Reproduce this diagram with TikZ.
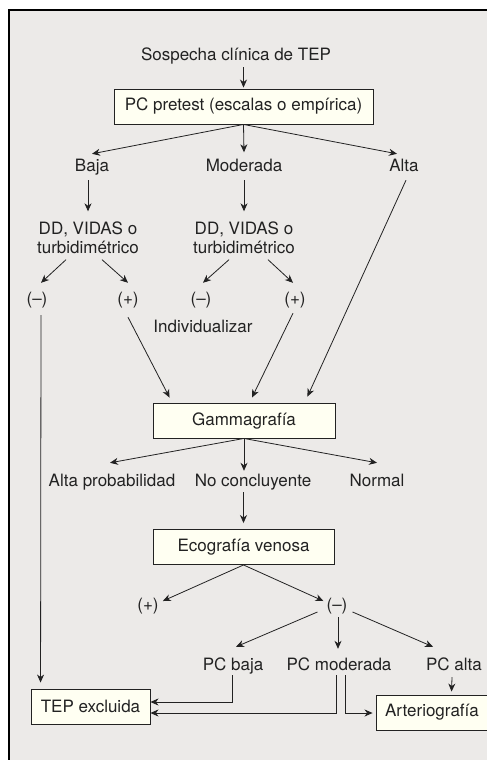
\documentclass[tikz,border=0pt]{standalone}
\usepackage{fontspec}
\setmainfont{TeX Gyre Heros}
\usetikzlibrary{arrows.meta,calc}
\definecolor{panel}{HTML}{ECEAE8}
\definecolor{boxfill}{HTML}{FFFFF2}
\definecolor{ink}{HTML}{222222}

\begin{document}
\begin{tikzpicture}
  [x=1pt,y=-1pt
  ,every node/.style={font=\fontsize{17}{19}\selectfont,text=ink}
  ,lbl/.style={inner sep=0pt,text height=12.5pt,text depth=3.5pt,anchor=base}
  ,stepbox/.style={draw=ink,line width=0.9pt,fill=boxfill,inner sep=0pt,minimum height=35pt}
  ,conn/.style={draw=ink,line width=0.8pt,-{Stealth[length=8pt,width=7pt,inset=2.5pt]}}
  ]

  % Box
  %
  % #1 - name
  % #2 - center
  % #3 - width
  % #4 - text
  \newcommand{\flowbox}[4]{
    \node[stepbox,minimum width=#3] (#1) at #2 {#4};
  }

  % Label
  %
  % #1 - name
  % #2 - base point
  % #3 - text
  \newcommand{\flabel}[3]{
    \node[lbl] (#1) at #2 {#3};
  }

  \useasboundingbox (0,0) rectangle (487,760);

  % panel
  \fill[panel] (9,10) rectangle (487,760);
  \draw[line width=1.2pt] (9,760) -- (9,10) -- (487,10);

  % pretest
  \flabel{sosp}{(236,61)}{Sospecha clínica de TEP}
  \flowbox{pc}{(243.5,106.5)}{259pt}{PC pretest (escalas o empírica)}
  \flabel{baja}{(92,171)}{Baja}
  \flabel{mod}{(244,171)}{Moderada}
  \flabel{alta}{(404,171)}{Alta}

  % dimero D
  \node[align=center,inner sep=0pt] (dda) at (88,237.5) {DD, VIDAS o\\turbidimétrico};
  \node[align=center,inner sep=0pt] (ddb) at (244,237.5) {DD, VIDAS o\\turbidimétrico};
  \flabel{nega}{(37,304)}{(–)}
  \flabel{posa}{(128,304)}{(+)}
  \flabel{negb}{(201,304)}{(–)}
  \flabel{posb}{(295,304)}{(+)}
  \flabel{indiv}{(203,332)}{Individualizar}

  % gammagrafia
  \flowbox{gam}{(244,420.5)}{182pt}{Gammagrafía}
  \flabel{altp}{(112,486)}{Alta probabilidad}
  \flabel{noc}{(253,486)}{No concluyente}
  \flabel{norm}{(377,486)}{Normal}

  % ecografia
  \flowbox{eco}{(243.5,547)}{181pt}{Ecografía venosa}
  \flabel{ecop}{(148,610)}{(+)}
  \flabel{econ}{(337,610)}{(–)}
  \flabel{pcb}{(233,670)}{PC baja}
  \flabel{pcm}{(339,670)}{PC moderada}
  \flabel{pca}{(454,670)}{PC alta}

  % final
  \flowbox{tep}{(90.5,706.5)}{119pt}{TEP excluida}
  \flowbox{art}{(432,712.5)}{112pt}{Arteriografía}

  % arrows
  \draw[conn] ($(pc.north |- sosp.south)+(0,2.5)$) -- ($(pc.north)+(0,-1)$);
  \draw[conn] (pc.south) -- ($(baja.north)+(0,-4.5)$);
  \draw[conn] (pc.south) -- ($(mod.north)+(0,-6)$);
  \draw[conn] (pc.south) -- ($(alta.north)+(-7,-4.5)$);

  \draw[conn] ($(baja.south)+(-4,5.5)$) -- ($(dda.north)+(0,-10)$);
  \draw[conn] ($(mod.south)+(0,5.5)$) -- ($(ddb.north)+(0,-10)$);
  \draw[conn] ($(dda.south)+(-22,6)$) -- ($(nega.north)+(4,-8.5)$);
  \draw[conn] ($(dda.south)+(14,6)$) -- ($(posa.north)+(0,-8.5)$);
  \draw[conn] ($(ddb.south)+(-15,6)$) -- ($(negb.north)+(2,-8.5)$);
  \draw[conn] ($(ddb.south)+(24,6)$) -- ($(posb.north)+(-2,-8.5)$);

  \draw[conn] ($(posa.south)+(0,9.5)$) -- ($(gam.north west)+(17,-5)$);
  \draw[conn] ($(posb.south)+(-2,5.5)$) -- ($(gam.north)+(8,-5)$);
  \draw[conn] ($(alta.south)+(2,5.5)$) -- ($(gam.north east)+(-28,-6)$);
  \draw[conn] (gam.south) -- ($(altp.north)+(-2,-10.5)$);
  \draw[conn] (gam.south) -- ($(gam.south |- noc.north)+(0,-2.5)$);
  \draw[conn] (gam.south) -- ($(norm.north)+(0,-10.5)$);

  \draw[conn] ($(eco.north |- noc.south)+(0,2.5)$) -- ($(eco.north)+(0,-6)$);
  \draw[conn] (eco.south) -- ($(ecop.east)+(4,-4.5)$);
  \draw[conn] (eco.south) -- ($(econ.west)+(-3,-4.5)$);
  \draw[conn] ($(econ.west)+(-9,6.5)$) -- ($(pcb.north)+(3,-10.5)$);
  \draw[conn] ($(econ.south)+(1,3.5)$) -- ($(pcm.north)+(-1,-8.5)$);
  \draw[conn] ($(econ.east)+(5,6.5)$) -- ($(pca.north)+(-21,-10.5)$);

  \draw[conn] ($(nega.south)+(4,7.5)$) -- ($(tep.north west)+(10,-6)$);
  \draw[conn] ($(pcb.south)+(-1,1.5)$) |- ($(tep.east)+(0,-4.5)$);
  \draw[conn] ($(pcm.south)+(-3,1.5)$) |- ($(tep.east)+(0,6.5)$);
  \draw[conn] ($(pcm.south)+(6,1.5)$) |- ($(art.west)+(-3,0.5)$);
  \draw[conn] ($(pca.south)+(-2,3.5)$) -- ($(art.north west)+(76,-3)$);

\end{tikzpicture}
\end{document}
